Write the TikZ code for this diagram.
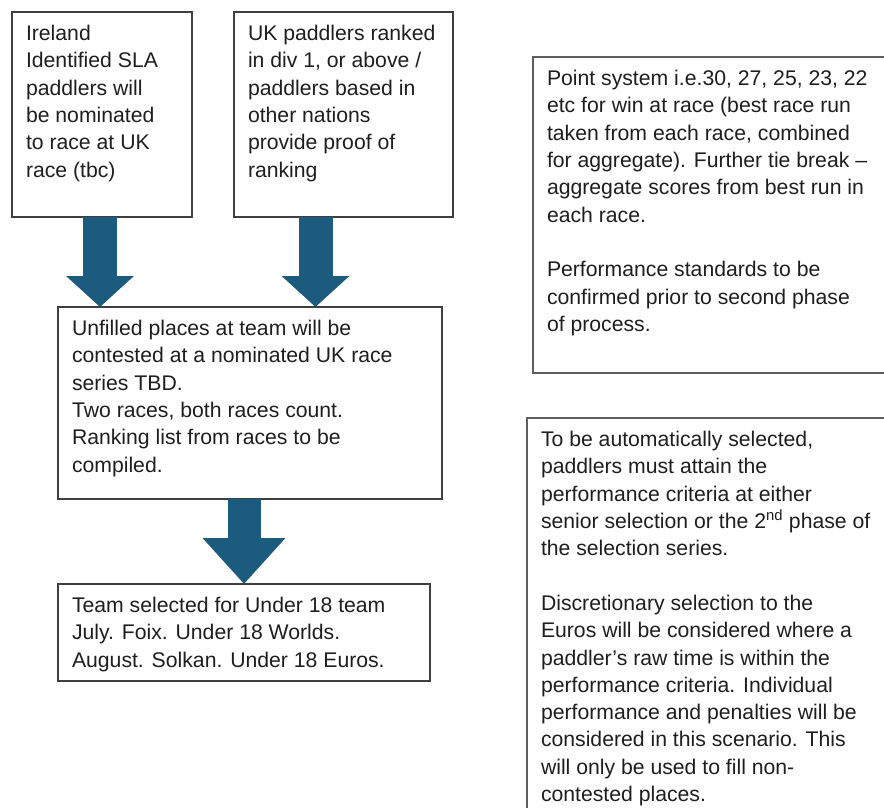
\documentclass[tikz,border=0pt]{standalone}
\usepackage{fontspec}
\setmainfont{Liberation Sans}
\usetikzlibrary{arrows.meta}

\definecolor{flowblue}{HTML}{1A5B7E}
\definecolor{edgegrey}{HTML}{3F3F3F}
\definecolor{notegrey}{HTML}{5E5E5E}
\definecolor{inkgrey}{HTML}{1E1E1E}

\newcommand{\boxfont}{\fontsize{21.2}{27.3}\selectfont}
\newcommand{\boxtext}[3]{\parbox[t][#2][t]{#1}{\raggedright\strut #3}}

\tikzset{
  stage/.style={draw=edgegrey, line width=1.3pt, anchor=north west, outer sep=0pt,
    inner xsep=14pt, inner ysep=9.5pt, text=inkgrey, font=\boxfont},
  note/.style={stage, draw=notegrey, line width=1.8pt},
  bigarrow/.style={draw=flowblue, line width=34pt, -{Triangle[width=66pt,length=31pt]}},
  lastarrow/.style={draw=flowblue, line width=33pt, -{Triangle[width=80pt,length=46pt]}}
}

\begin{document}
\begin{tikzpicture}[x=1pt, y=-1pt]
\useasboundingbox (0,0) rectangle (884,808);
\clip (0,0) rectangle (884,808);

% left column
\node[stage] (ireland) at (12,12) {\boxtext{152pt}{186pt}{Ireland\\
  Identified SLA\\ paddlers will\\ be nominated\\ to race at UK\\ race (tbc)}};
\node[stage] (ukrank) at (234,12) {\boxtext{191pt}{186pt}{UK paddlers ranked\\
  in div 1, or above /\\ paddlers based in\\ other nations\\ provide proof of\\ ranking}};
\node[stage] (unfilled) at (58,307) {\boxtext{356pt}{173pt}{Unfilled places at team will be\\
  contested at a nominated UK race\\ series TBD.\\ Two races, both races count.\\
  Ranking list from races to be\\ compiled.}};
\node[stage] (team) at (58,584) {\boxtext{344pt}{78pt}{Team selected for Under 18 team\\
  July. Foix. Under 18 Worlds.\\ August. Solkan. Under 18 Euros.}};

% notes on the right
\node[note] (points) at (533,57) {\boxtext{342pt}{297pt}{Point system i.e.30, 27, 25, 23, 22\\
  etc for win at race (best race run\\ taken from each race, combined\\
  for aggregate). Further tie break –\\ aggregate scores from best run in\\ each race.\\[27.3pt]
  Performance standards to be\\ confirmed prior to second phase\\ of process.}};
\node[note] (auto) at (527,418) {\boxtext{352pt}{401pt}{To be automatically selected,\\
  paddlers must attain the\\ performance criteria at either\\
  senior selection or the 2\textsuperscript{nd} phase of\\ the selection series.\\[27.3pt]
  Discretionary selection to the\\ Euros will be considered where a\\
  paddler’s raw time is within the\\ performance criteria. Individual\\
  performance and penalties will be\\ considered in this scenario. This\\
  will only be used to fill non-\\ contested places.}};

% block arrows
\draw[bigarrow] ([xshift=-2pt]ireland.south) -- ([xshift=-2pt]ireland.south |- unfilled.north);
\draw[bigarrow] ([xshift=-28pt]ukrank.south) -- ([xshift=-28pt]ukrank.south |- unfilled.north);
\draw[lastarrow] (unfilled.south -| team.north) -- (team.north);
\end{tikzpicture}
\end{document}
